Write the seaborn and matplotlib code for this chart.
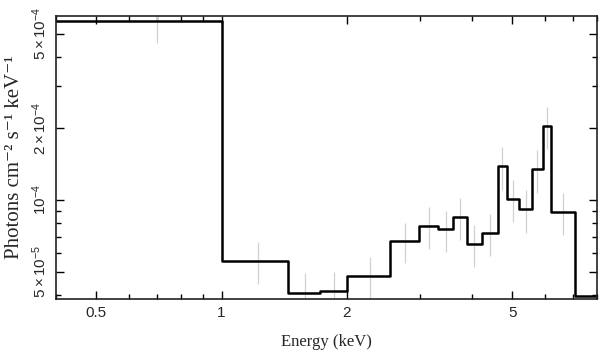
import matplotlib
matplotlib.use('Agg')
import matplotlib.pyplot as plt
import numpy as np
import pandas as pd
import seaborn as sns
from matplotlib.ticker import NullFormatter

# bin edges (keV) and flux per bin (photons cm^-2 s^-1 keV^-1)
edges = [0.4, 1.0, 1.447, 1.723, 2.0, 2.536, 2.985, 3.308, 3.604, 3.88,
         4.227, 4.616, 4.851, 5.18, 5.577, 5.909, 6.19, 7.053, 8.0]
flux = [5.67e-4, 5.56e-5, 4.06e-5, 4.16e-5, 4.79e-5, 6.73e-5, 7.78e-5, 7.53e-5,
        8.48e-5, 6.53e-5, 7.29e-5, 1.386e-4, 1.013e-4, 9.14e-5, 1.346e-4,
        2.05e-4, 8.93e-5, 3.96e-5]
flux_err = [1.10e-4, 1.1e-5, 0.86e-5, 0.85e-5, 0.95e-5, 1.3e-5, 1.56e-5, 1.5e-5,
            1.7e-5, 1.3e-5, 1.48e-5, 0.28e-4, 0.205e-4, 1.86e-5, 0.274e-4,
            0.415e-4, 1.8e-5, 0.0]

xticks = [0.5, 1, 2, 5]
xticklabels = ['0.5', '1', '2', '5']
xminor = [0.4, 0.6, 0.7, 0.8, 0.9, 3, 4, 6, 7, 8]
yticks = [5e-5, 1e-4, 2e-4, 5e-4]
yticklabels = [r'$5\times10^{-5}$', r'$10^{-4}$', r'$2\times10^{-4}$', r'$5\times10^{-4}$']
yminor = [4e-5, 6e-5, 7e-5, 8e-5, 9e-5, 3e-4, 4e-4]

sns.set_theme(style='ticks')
plt.rcParams['font.family'] = ['Liberation Sans', 'DejaVu Sans']
plt.rcParams['mathtext.fontset'] = 'custom'
plt.rcParams['mathtext.rm'] = 'Liberation Sans'
plt.rcParams['mathtext.it'] = 'Liberation Sans:italic'

step = pd.DataFrame({'energy': edges, 'flux': flux + [flux[-1]]})
centers = [(a + b) / 2 for a, b in zip(edges[:-1], edges[1:])]

fig = plt.figure(figsize=(6.09, 3.61), dpi=100)
ax = fig.add_axes([56 / 609, 1 - 299 / 361, 541.3 / 609, 283.3 / 361])

ax.vlines(centers, np.array(flux) - np.array(flux_err), np.array(flux) + np.array(flux_err),
          color='#d0d0d0', lw=0.9, zorder=1)
sns.lineplot(data=step, x='energy', y='flux', drawstyle='steps-post', color='black',
             lw=1.8, ax=ax, zorder=2)

ax.set_xscale('log')
ax.set_yscale('log')
ax.set_xlim(0.4, 7.96)
ax.set_ylim(3.84e-5, 5.95e-4)

ax.set_xticks(xticks, xticklabels)
ax.set_xticks(xminor, minor=True)
ax.xaxis.set_minor_formatter(NullFormatter())
ax.set_yticks(yticks)
ax.set_yticklabels(yticklabels, rotation=90, va='center')
ax.set_yticks(yminor, minor=True)
ax.yaxis.set_minor_formatter(NullFormatter())

ax.tick_params(which='both', direction='in', top=True, right=True, width=1.0,
               color='black', labelsize=11)
ax.tick_params(which='major', length=5.5, pad=5)
ax.tick_params(which='minor', length=3.5)
for sp in ax.spines.values():
    sp.set_linewidth(1.2)
    sp.set_color('#222222')

ax.set_xlabel('Energy (keV)', family=['Liberation Serif', 'DejaVu Serif'], fontsize=12, labelpad=10)
ax.set_ylabel('Photons cm⁻² s⁻¹ keV⁻¹', family=['Liberation Serif', 'DejaVu Serif'],
              fontsize=15, labelpad=5)

fig.savefig('out.png', dpi=100)
